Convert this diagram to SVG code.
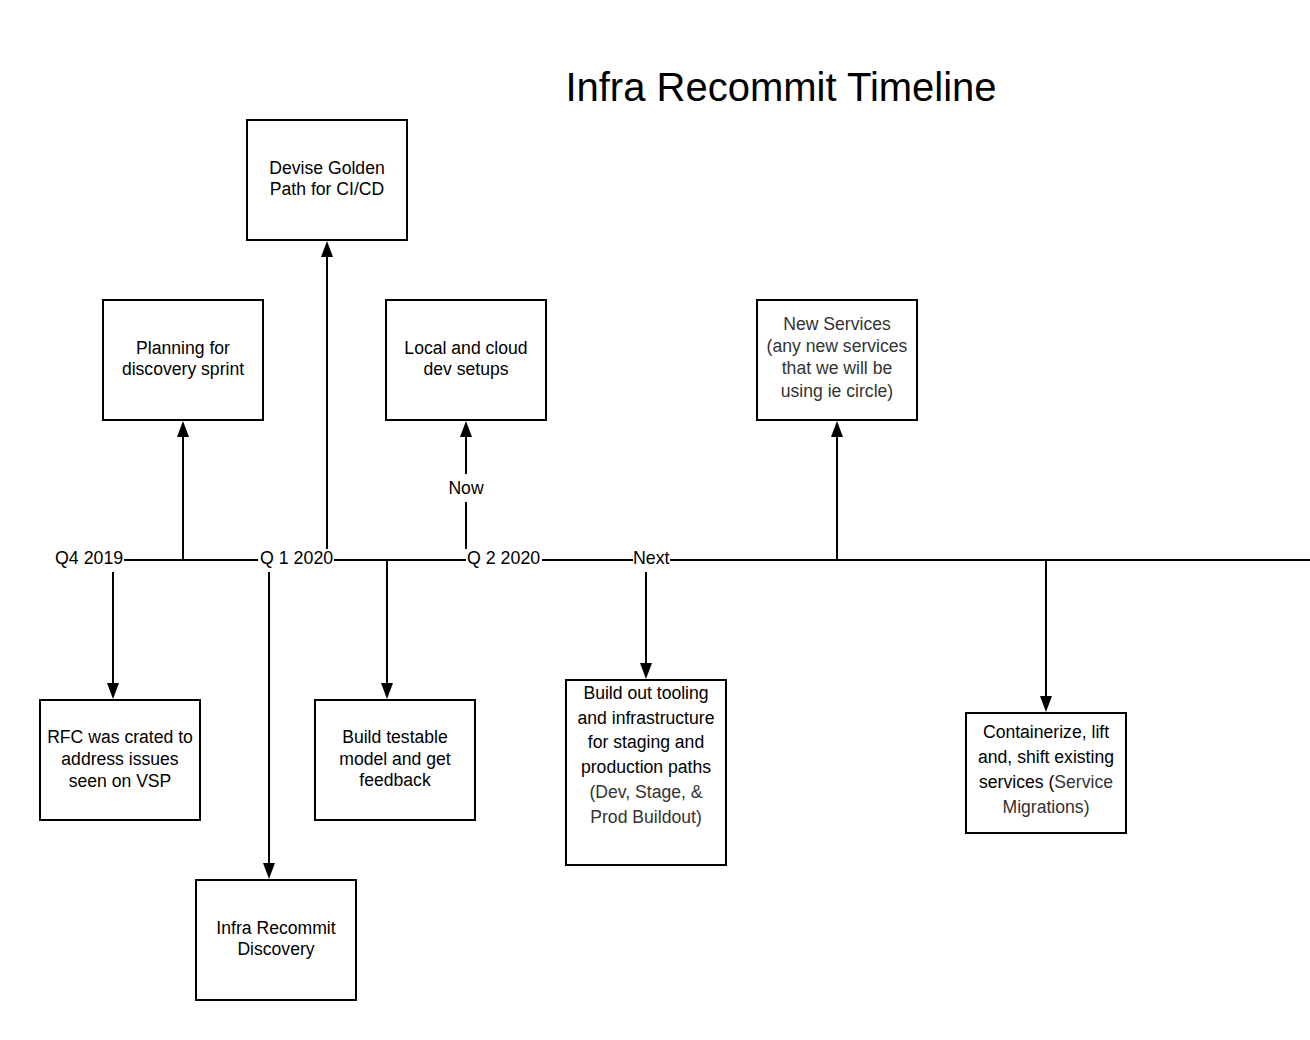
<svg xmlns="http://www.w3.org/2000/svg" width="1310" height="1040" viewBox="0 0 1310 1040">
<style>
.box{fill:#fff;stroke:#000;stroke-width:2}
.t{font-family:"Liberation Sans",Arial,sans-serif;font-size:17.6px;fill:#000;text-anchor:middle}
.g{fill:#333}
.lbl{font-family:"Liberation Sans",Arial,sans-serif;font-size:17.8px;fill:#000}
.ln{stroke:#000;stroke-width:2;fill:none}
</style>
<rect width="1310" height="1040" fill="#fff"/>
<text x="781" y="101" font-family="Liberation Sans,Arial,sans-serif" font-size="40" text-anchor="middle" fill="#000">Infra Recommit Timeline</text>

<g id="connectors">
<line class="ln" x1="124" y1="560" x2="258" y2="560"/>
<line class="ln" x1="334" y1="560" x2="466" y2="560"/>
<line class="ln" x1="542" y1="560" x2="633" y2="560"/>
<line class="ln" x1="670" y1="560" x2="1310" y2="560"/>
<path class="ln" d="M183,560 V436"/><path d="M177,437 L183,421 L189,437 z"/>
<path class="ln" d="M327,549 V256"/><path d="M321,257 L327,241 L333,257 z"/>
<path class="ln" d="M466,549 V502 M466,474 V436"/><path d="M460,437 L466,421 L472,437 z"/>
<path class="ln" d="M837,560 V436"/><path d="M831,437 L837,421 L843,437 z"/>
<path class="ln" d="M113,572 V684"/><path d="M107,683 L113,699 L119,683 z"/>
<path class="ln" d="M269,572 V864"/><path d="M263,863 L269,879 L275,863 z"/>
<path class="ln" d="M387,560 V684"/><path d="M381,683 L387,699 L393,683 z"/>
<path class="ln" d="M646,572 V664"/><path d="M640,663 L646,679 L652,663 z"/>
<path class="ln" d="M1046,560 V697"/><path d="M1040,696 L1046,712 L1052,696 z"/>
<text class="lbl" x="55" y="564">Q4 2019</text>
<text class="lbl" x="260" y="564">Q 1 2020</text>
<text class="lbl" x="467" y="564">Q 2 2020</text>
<text class="lbl" x="633" y="564">Next</text>
<text class="t" x="466" y="494">Now</text>
</g>

<g id="golden"><rect class="box" x="247" y="120" width="160" height="120"/>
<text class="t" x="327" y="174">Devise Golden</text><text class="t" x="327" y="195">Path for CI/CD</text></g>

<g id="planning"><rect class="box" x="103" y="300" width="160" height="120"/>
<text class="t" x="183" y="354">Planning for</text><text class="t" x="183" y="375">discovery sprint</text></g>

<g id="local"><rect class="box" x="386" y="300" width="160" height="120"/>
<text class="t" x="466" y="354">Local and cloud</text><text class="t" x="466" y="375">dev setups</text></g>

<g id="newservices"><rect class="box" x="757" y="300" width="160" height="120"/>
<text class="t g" x="837" y="330">New Services</text><text class="t g" x="837" y="352">(any new services</text>
<text class="t g" x="837" y="374">that we will be</text><text class="t g" x="837" y="397">using ie circle)</text></g>

<g id="rfc"><rect class="box" x="40" y="700" width="160" height="120"/>
<text class="t" x="120" y="743">RFC was crated to</text><text class="t" x="120" y="765">address issues</text><text class="t" x="120" y="787">seen on VSP</text></g>

<g id="discovery"><rect class="box" x="196" y="880" width="160" height="120"/>
<text class="t" x="276" y="934">Infra Recommit</text><text class="t" x="276" y="955">Discovery</text></g>

<g id="testable"><rect class="box" x="315" y="700" width="160" height="120"/>
<text class="t" x="395" y="743">Build testable</text><text class="t" x="395" y="765">model and get</text><text class="t" x="395" y="786">feedback</text></g>

<g id="tooling"><rect class="box" x="566" y="680" width="160" height="185"/>
<text class="t" x="646" y="699">Build out tooling</text><text class="t" x="646" y="724">and infrastructure</text>
<text class="t" x="646" y="748">for staging and</text><text class="t" x="646" y="773">production paths</text>
<text class="t g" x="646" y="798">(Dev, Stage, &amp;</text><text class="t g" x="646" y="823">Prod Buildout)</text></g>

<g id="containerize"><rect class="box" x="966" y="713" width="160" height="120"/>
<text class="t" x="1046" y="738">Containerize, lift</text><text class="t" x="1046" y="763">and, shift existing</text>
<text class="t" x="1046" y="788">services (<tspan class="g">Service</tspan></text><text class="t g" x="1046" y="813">Migrations)</text></g>
</svg>
